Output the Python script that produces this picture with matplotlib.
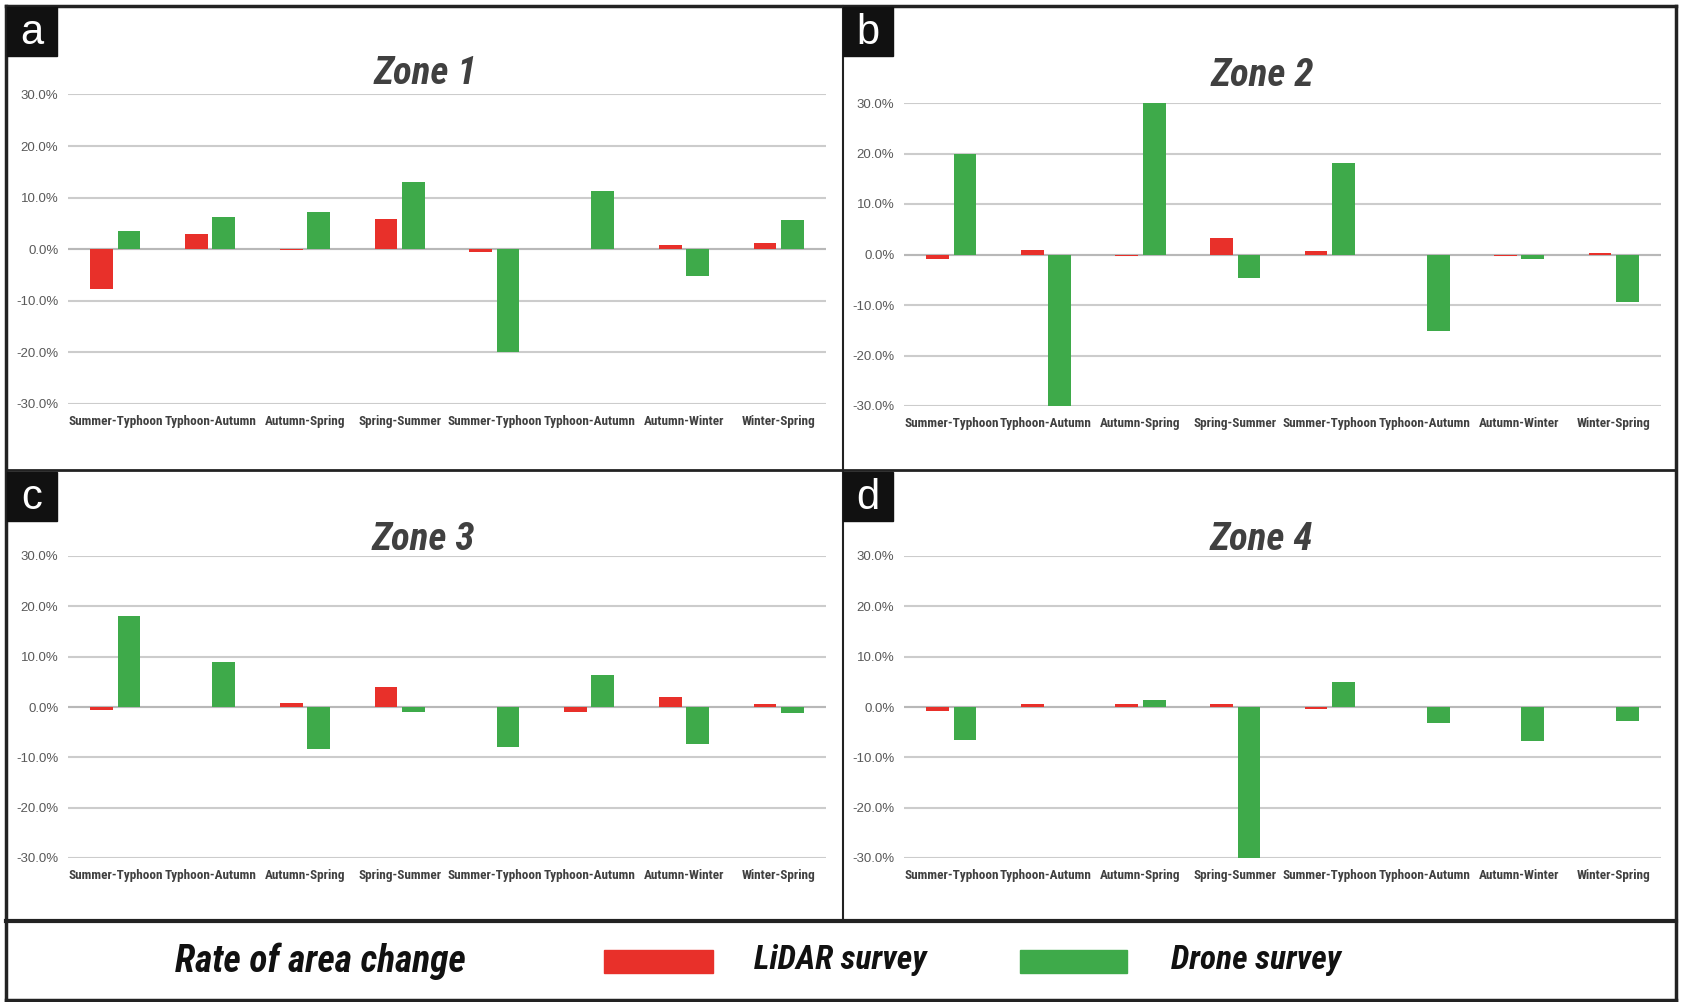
import matplotlib
matplotlib.use('Agg')
import matplotlib.pyplot as plt
import matplotlib.font_manager as fm
from matplotlib.patches import Rectangle
from matplotlib.lines import Line2D
import numpy as np

# ---- data (percent change) ----
periods = ['Summer-Typhoon', 'Typhoon-Autumn', 'Autumn-Spring', 'Spring-Summer',
           'Summer-Typhoon', 'Typhoon-Autumn', 'Autumn-Winter', 'Winter-Spring']
zones = ['Zone 1', 'Zone 2', 'Zone 3', 'Zone 4']
letters = ['a', 'b', 'c', 'd']

lidar_z1 = [-7.8, 2.9, -0.2, 5.9, -0.6, 0.0, 0.8, 1.1]
drone_z1 = [3.6, 6.3, 7.1, 13.1, -20.0, 11.3, -5.3, 5.6]
lidar_z2 = [-0.9, 0.9, -0.2, 3.2, 0.6, 0.0, -0.3, 0.2]
drone_z2 = [20.0, -30.0, 30.0, -4.7, 18.2, -15.2, -0.9, -9.5]
lidar_z3 = [-0.6, 0.0, 0.7, 3.9, 0.0, -1.0, 1.9, 0.5]
drone_z3 = [18.0, 9.0, -8.3, -1.0, -7.9, 6.4, -7.3, -1.1]
lidar_z4 = [-0.7, 0.5, 0.5, 0.5, -0.3, 0.05, 0.05, 0.0]
drone_z4 = [-6.6, 0.0, 1.3, -30.0, 5.0, -3.1, -6.7, -2.7]

lidar = [lidar_z1, lidar_z2, lidar_z3, lidar_z4]
drone = [drone_z1, drone_z2, drone_z3, drone_z4]
yticks = [-30, -20, -10, 0, 10, 20, 30]

RED = '#E8302A'
GREEN = '#3EAA4A'

names = {f.name for f in fm.fontManager.ttflist}


def pick(*cands):
    for c in cands:
        if c in names:
            return c
    return 'DejaVu Sans'


narrow = pick('Liberation Sans Narrow', 'Roboto Condensed', 'DejaVu Sans Condensed', 'Liberation Sans')
plain = pick('Liberation Sans', 'DejaVu Sans')

W, H = 1683, 1002
fig = plt.figure(figsize=(W / 100, H / 100), dpi=100)


def rect(x0, y0, x1, y1):
    return [x0 / W, 1 - y1 / H, (x1 - x0) / W, (y1 - y0) / H]


def fx(x):
    return x / W


def fy(y):
    return 1 - y / H


ax_boxes = [(68, 94.5, 826, 403.6), (904, 103, 1661, 406),
            (68, 556, 826, 858), (904, 556, 1661, 858)]
title_pos = [(425, 74), (1262, 75), (423, 539), (1261, 539)]
letter_pos = [(7, 7), (843, 7), (7, 472), (843, 472)]

x = np.arange(len(periods))
bw = 0.24
off = 0.145

for i in range(4):
    ax = fig.add_axes(rect(*ax_boxes[i]))
    ax.bar(x - off, lidar[i], width=bw, color=RED, zorder=3)
    ax.bar(x + off, drone[i], width=bw, color=GREEN, zorder=3)
    ax.set_xlim(-0.5, 7.5)
    ax.set_ylim(-30, 30)
    ax.set_yticks(yticks)
    ax.set_yticklabels([f'{v:.1f}%' for v in yticks], fontsize=9.5,
                       color='#595959', family=plain)
    ax.set_xticks(x)
    ax.set_xticklabels(periods, fontsize=9.5, fontweight='bold',
                       color='#404040', family=narrow)
    ax.tick_params(length=0, axis='y', pad=7)
    ax.tick_params(length=0, axis='x', pad=8)
    for s in ax.spines.values():
        s.set_visible(False)
    ax.grid(axis='y', color='#CCCCCC', lw=1.5, zorder=0)
    ax.axhline(0, color='#B8B8B8', lw=1.5, zorder=2)
    ax.patch.set_alpha(0)

    tx, ty = title_pos[i]
    fig.text(fx(tx), fy(ty), zones[i], ha='center', va='center', fontsize=28,
             fontweight='bold', fontstyle='italic', color='#404040', family=narrow)

    lx, ly = letter_pos[i]
    fig.patches.append(Rectangle((fx(lx), fy(ly + 49)), 50 / W, 49 / H,
                                 transform=fig.transFigure, color='#111111', zorder=5))
    fig.text(fx(lx + 25), fy(ly + 26), letters[i], ha='center', va='center',
             fontsize=30, color='white', family=plain, zorder=6)

# frame and dividers
frame_lines = [
    ((6, 1676), (6, 6), 2.5), ((6, 1676), (1000, 1000), 2.5),
    ((6, 6), (6, 1000), 2.5), ((1676, 1676), (6, 1000), 2.5),
    ((843, 843), (6, 921), 1.5), ((6, 1676), (470, 470), 2),
    ((6, 1676), (921, 921), 3),
]
for xs, ys, lw in frame_lines:
    fig.add_artist(Line2D([fx(v) for v in xs], [fy(v) for v in ys],
                          transform=fig.transFigure, color='#222222', lw=lw))

# legend row
fig.text(fx(320), fy(961), 'Rate of area change', ha='center', va='center',
         fontsize=27, fontweight='bold', fontstyle='italic', color='#111111', family=narrow)
fig.patches.append(Rectangle((fx(604), fy(973)), 109 / W, 23 / H,
                             transform=fig.transFigure, color=RED))
fig.patches.append(Rectangle((fx(1020), fy(973)), 107 / W, 23 / H,
                             transform=fig.transFigure, color=GREEN))
fig.text(fx(754), fy(960), 'LiDAR survey', ha='left', va='center',
         fontsize=24, fontweight='bold', fontstyle='italic', color='#111111', family=narrow)
fig.text(fx(1171), fy(960), 'Drone survey', ha='left', va='center',
         fontsize=24, fontweight='bold', fontstyle='italic', color='#111111', family=narrow)

fig.savefig('out.png', dpi=100, facecolor='white')
